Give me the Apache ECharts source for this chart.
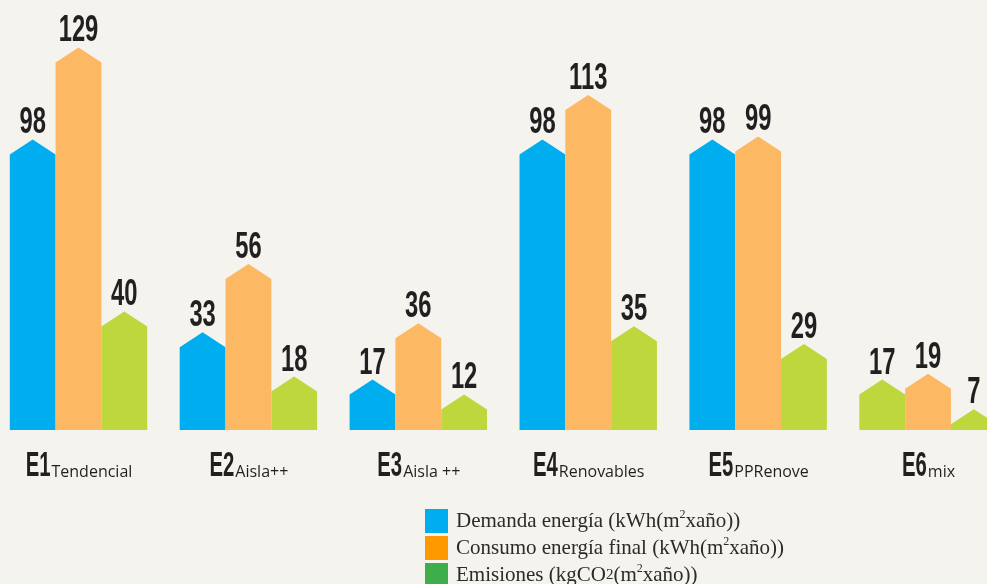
<!DOCTYPE html>
<html lang="es">
<head>
  <meta charset="UTF-8">
  <title>Escenarios E1-E6</title>
  <script src="https://cdn.jsdelivr.net/npm/echarts@6/dist/echarts.min.js"></script>
  <style>
    html, body { margin: 0; padding: 0; background: #F4F3ED; }
    #main { width: 987px; height: 584px; }
  </style>
</head>
<body>
  <div id="main"></div>
  <script>
    // datos
    var categories = ['E1', 'E2', 'E3', 'E4', 'E5', 'E6'];
    var subLabels = ['Tendencial', 'Aisla++', 'Aisla ++', 'Renovables', 'PPRenove', 'mix'];
    var demanda = [98, 33, 17, 98, 98, 17];
    var consumo = [129, 56, 36, 113, 99, 19];
    var emisiones = [40, 18, 12, 35, 29, 7];
    var seriesNames = [
      'Demanda energía (kWh(m2xaño))',
      'Consumo energía final (kWh(m2xaño))',
      'Emisiones (kgCO2(m2xaño))'
    ];
    var legendLabels = [
      '{t|Demanda energía (kWh(m}{sup|2}{t|xaño))}',
      '{t|Consumo energía final (kWh(m}{sup|2}{t|xaño))}',
      '{t|Emisiones (kgCO}{sub|2}{t|(m}{sup|2}{t|xaño))}'
    ];

    var BAR_COLORS = ['#00AEEF', '#FDB863', '#BED73C'];
    var LEGEND_COLORS = ['#00AEEF', '#FF9900', '#3DAE49'];
    var BAR_W = 45.8;
    var PEAK_H = 15;
    var VALUE_FONT = 'bold 36px "Liberation Sans", sans-serif';
    var CAT_FONT = 'bold 35px "Liberation Sans", sans-serif';
    var SUB_FONT = '16px "Open Sans", sans-serif';
    var VALUE_SX = 0.66;
    var CAT_SX = 0.58;

    var measureCtx = document.createElement('canvas').getContext('2d');
    function textWidth(str, font) {
      measureCtx.font = font;
      return measureCtx.measureText(str).width;
    }

    function toPairs(arr) {
      return arr.map(function (v, i) { return [i, v]; });
    }

    // barra con tejado (pentagono) + etiqueta de valor
    function houseBar(k) {
      return function (params, api) {
        var i = api.value(0), v = api.value(1);
        var base = api.coord([i, 0]);
        var top = api.coord([i, v]);
        var cx = base[0] + (k - 1) * BAR_W;
        var half = BAR_W / 2;
        var shoulder = Math.min(base[1], top[1] + PEAK_H);
        // en el original la primera barra de E6 aparece en verde
        var fill = (k === 0 && i === categories.length - 1) ? BAR_COLORS[2] : BAR_COLORS[k];
        return {
          type: 'group',
          children: [{
            type: 'polygon',
            shape: { points: [[cx - half, base[1]], [cx - half, shoulder], [cx, top[1]], [cx + half, shoulder], [cx + half, base[1]]] },
            style: { fill: fill }
          }, {
            type: 'text',
            x: cx, y: top[1] + 2,
            scaleX: VALUE_SX,
            style: { text: String(v), x: 0, y: 0, align: 'center', verticalAlign: 'bottom', font: VALUE_FONT, fill: '#231F20' }
          }]
        };
      };
    }

    function categoryLabel(params, api) {
      var i = api.value(0);
      var base = api.coord([i, 0]);
      var w1 = textWidth(categories[i], CAT_FONT) * CAT_SX;
      var w2 = textWidth(subLabels[i], SUB_FONT);
      var left = base[0] - (w1 + w2) / 2;
      return {
        type: 'group',
        children: [{
          type: 'text',
          x: left, y: base[1] + 54,
          scaleX: CAT_SX,
          style: { text: categories[i], x: 0, y: 0, align: 'left', verticalAlign: 'bottom', font: CAT_FONT, fill: '#231F20' }
        }, {
          type: 'text',
          x: left + w1 + 1, y: base[1] + 50,
          style: { text: subLabels[i], x: 0, y: 0, align: 'left', verticalAlign: 'bottom', font: SUB_FONT, fill: '#231F20' }
        }]
      };
    }

    var chart = echarts.init(document.getElementById('main'));

    var option = {
      backgroundColor: '#F4F3ED',
      animation: false,
      grid: { left: 0, right: 0, top: 0, bottom: 154, outerBoundsMode: 'none' },
      xAxis: { type: 'value', min: -0.462, max: 5.347, show: false },
      yAxis: { type: 'value', min: 0, max: 145, show: false },
      legend: {
        orient: 'vertical',
        left: 425, top: 509,
        height: 100,
        padding: 0,
        itemWidth: 23, itemHeight: 24, itemGap: 3,
        icon: 'rect',
        selectedMode: false,
        data: seriesNames.map(function (n, i) {
          return { name: n, itemStyle: { color: LEGEND_COLORS[i] } };
        }),
        formatter: function (name) { return legendLabels[seriesNames.indexOf(name)]; },
        textStyle: {
          padding: [0, 0, 0, 3],
          rich: {
            t: { fontFamily: '"Liberation Serif", serif', fontSize: 21, color: '#2b2b2b', lineHeight: 24 },
            sup: { fontFamily: '"Liberation Serif", serif', fontSize: 12, color: '#2b2b2b', verticalAlign: 'top', lineHeight: 20 },
            sub: { fontFamily: '"Liberation Serif", serif', fontSize: 15, color: '#2b2b2b', verticalAlign: 'middle', lineHeight: 24 }
          }
        }
      },
      series: [
        { name: seriesNames[0], type: 'custom', renderItem: houseBar(0), data: toPairs(demanda), itemStyle: { color: LEGEND_COLORS[0] } },
        { name: seriesNames[1], type: 'custom', renderItem: houseBar(1), data: toPairs(consumo), itemStyle: { color: LEGEND_COLORS[1] } },
        { name: seriesNames[2], type: 'custom', renderItem: houseBar(2), data: toPairs(emisiones), itemStyle: { color: LEGEND_COLORS[2] } },
        { name: 'etiquetas', type: 'custom', silent: true, renderItem: categoryLabel, data: toPairs(categories.map(function () { return 0; })) }
      ]
    };

    chart.setOption(option);
  </script>
</body>
</html>
